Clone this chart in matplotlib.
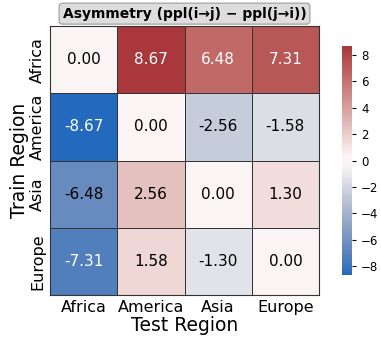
import matplotlib
matplotlib.use("Agg")
import matplotlib.pyplot as plt
import seaborn as sns
import numpy as np

regions = ["Africa", "America", "Asia", "Europe"]
row_africa = [0.00, 8.67, 6.48, 7.31]
row_america = [-8.67, 0.00, -2.56, -1.58]
row_asia = [-6.48, 2.56, 0.00, 1.30]
row_europe = [-7.31, 1.58, -1.30, 0.00]
cbar_ticks = [-8, -6, -4, -2, 0, 2, 4, 6, 8]

data = np.array([row_africa, row_america, row_asia, row_europe])
vmax = np.abs(data).max()
cmap = sns.color_palette("vlag", as_cmap=True)
norm = matplotlib.colors.Normalize(-vmax, vmax)

fig = plt.figure(figsize=(3.81, 3.46), dpi=100)
ax = fig.add_axes([50/381, 1-295/346, 269/381, 269/346])
cax = fig.add_axes([342/381, 1-275/346, 10/381, 229/346])
sns.heatmap(data, ax=ax, cbar_ax=cax, cmap=cmap, vmin=-vmax, vmax=vmax,
            annot=False,
            linewidths=0.6, linecolor="#333333",
            xticklabels=regions, yticklabels=regions)


def lum(c):
    rgb = np.array(c[:3])
    rgb = np.where(rgb <= 0.03928, rgb / 12.92, ((rgb + 0.055) / 1.055) ** 2.4)
    return 0.2126 * rgb[0] + 0.7152 * rgb[1] + 0.0722 * rgb[2]


for i in range(data.shape[0]):
    for j in range(data.shape[1]):
        v = data[i, j]
        col = "white" if lum(cmap(norm(v))) < 0.24 else "black"
        ax.text(j + 0.5, i + 0.5, f"{v:.2f}", ha="center", va="center",
                fontsize=11, color=col)

for s in ax.spines.values():
    s.set_visible(True)
    s.set_color("#333333")
    s.set_linewidth(0.8)
ax.tick_params(axis="both", length=0, labelsize=11.5)
ax.set_yticklabels(regions, rotation=90, va="center")
ax.set_xlabel("Test Region", fontsize=13.5, labelpad=1)
ax.set_ylabel("Train Region", fontsize=13.5, labelpad=1)
ax.set_title("Asymmetry (ppl(i\u2192j) \u2212 ppl(j\u2192i))", fontsize=10, fontweight="bold",
             pad=6, bbox=dict(boxstyle="round,pad=0.25", facecolor="#dddddd", edgecolor="#aaaaaa"))
cax.set_yticks(cbar_ticks)
cax.tick_params(labelsize=8.5, length=3)
for s in cax.spines.values():
    s.set_visible(False)
fig.savefig("out.png", dpi=100)
